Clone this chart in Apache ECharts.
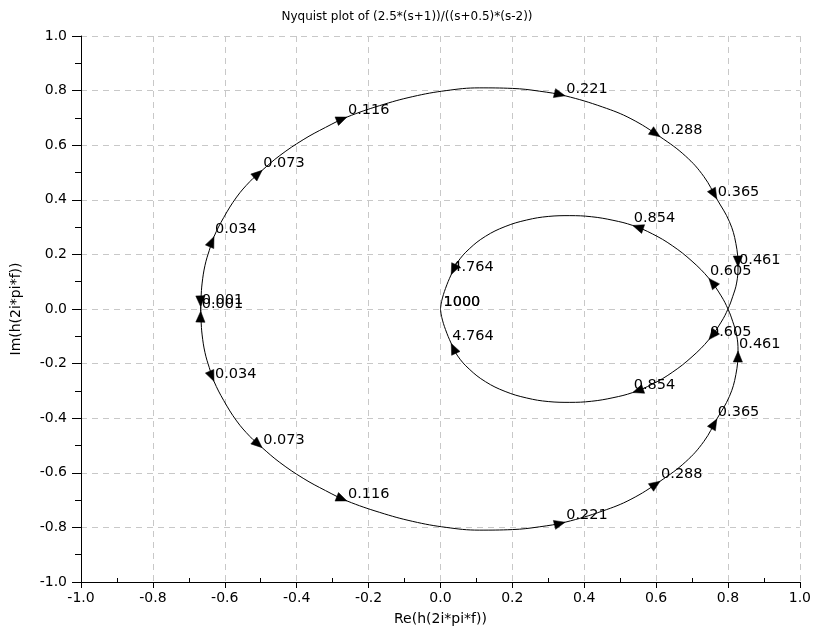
<!DOCTYPE html>
<html><head><meta charset="utf-8">
<script src="https://cdn.jsdelivr.net/npm/echarts@6/dist/echarts.min.js"></script>
<style>html,body{margin:0;padding:0;background:#fff}#c{width:814px;height:640px}</style>
</head><body><div id="c"></div>
<script>
// Branch for positive frequencies (upper outer arc, then lower inner loop)
const reA = [-0.667, -0.666, -0.663, -0.655, -0.643, -0.630, -0.603, -0.567, -0.530, -0.496, -0.447, -0.382, -0.320, -0.260, -0.169, -0.077, 0.016, 0.108, 0.200, 0.275, 0.347, 0.451, 0.530, 0.611, 0.682, 0.733, 0.769, 0.804, 0.822, 0.828, 0.824, 0.813, 0.800, 0.781, 0.747, 0.700, 0.645, 0.590, 0.535, 0.480, 0.420, 0.360, 0.300, 0.240, 0.180, 0.125, 0.080, 0.048, 0.030, 0.014, 0.004, 0.000];
const imA = [-0.008, 0.040, 0.095, 0.160, 0.215, 0.265, 0.335, 0.410, 0.467, 0.508, 0.562, 0.620, 0.665, 0.703, 0.745, 0.778, 0.800, 0.810, 0.808, 0.798, 0.781, 0.740, 0.697, 0.631, 0.560, 0.485, 0.403, 0.320, 0.240, 0.154, 0.095, 0.045, 0.000, -0.048, -0.112, -0.175, -0.232, -0.275, -0.306, -0.325, -0.338, -0.342, -0.339, -0.326, -0.302, -0.266, -0.220, -0.172, -0.126, -0.075, -0.032, 0.000];
// Branch for negative frequencies (lower outer arc, then upper inner loop)
const reB = [-0.667, -0.666, -0.663, -0.655, -0.643, -0.630, -0.603, -0.567, -0.530, -0.496, -0.447, -0.382, -0.320, -0.260, -0.169, -0.077, 0.016, 0.108, 0.200, 0.275, 0.347, 0.451, 0.530, 0.611, 0.682, 0.733, 0.769, 0.804, 0.822, 0.828, 0.824, 0.813, 0.800, 0.781, 0.747, 0.700, 0.645, 0.590, 0.535, 0.480, 0.420, 0.360, 0.300, 0.240, 0.180, 0.125, 0.080, 0.048, 0.030, 0.014, 0.004, 0.000];
const imB = [0.008, -0.040, -0.095, -0.160, -0.215, -0.265, -0.335, -0.410, -0.467, -0.508, -0.562, -0.620, -0.665, -0.703, -0.745, -0.778, -0.800, -0.810, -0.808, -0.798, -0.781, -0.740, -0.697, -0.631, -0.560, -0.485, -0.403, -0.320, -0.240, -0.154, -0.095, -0.045, 0.000, 0.048, 0.112, 0.175, 0.232, 0.275, 0.306, 0.325, 0.338, 0.342, 0.339, 0.326, 0.302, 0.266, 0.220, 0.172, 0.126, 0.075, 0.032, 0.000];

// Labelled frequency marks (arrow tips on each branch)
const markFreq = ['0.001', '0.034', '0.073', '0.116', '0.221', '0.288', '0.365', '0.461', '0.605', '0.854', '4.764', '1000'];
const markArrow = [1, 1, 1, 1, 1, 1, 1, 1, 1, 1, 1, 0];
const markReA = [-0.667, -0.630, -0.496, -0.260, 0.347, 0.611, 0.769, 0.828, 0.747, 0.535, 0.030, 0.000];
const markImA = [-0.008, 0.265, 0.508, 0.703, 0.781, 0.631, 0.403, 0.154, -0.112, -0.306, -0.126, 0.000];
const markReB = [-0.667, -0.630, -0.496, -0.260, 0.347, 0.611, 0.769, 0.828, 0.747, 0.535, 0.030, 0.000];
const markImB = [0.008, -0.265, -0.508, -0.703, -0.781, -0.631, -0.403, -0.154, 0.112, 0.306, 0.126, 0.000];

const FONT = "'DejaVu Sans', sans-serif";

function pairs(re, im) { return re.map((r, i) => [r, im[i]]); }

function markData(mRe, mIm, cRe, cIm) {
  return mRe.map((r, k) => {
    let best = 0, bd = Infinity;
    for (let i = 0; i < cRe.length; i++) {
      const d = (cRe[i] - r) ** 2 + (cIm[i] - mIm[k]) ** 2;
      if (d < bd) { bd = d; best = i; }
    }
    const pi = Math.max(0, best - 1), ni = Math.min(cRe.length - 1, best + 1);
    return [r, mIm[k], cRe[pi], cIm[pi], cRe[ni], cIm[ni]];
  });
}

function renderMark(params, api) {
  const k = params.dataIndex;
  const c = api.coord([api.value(0), api.value(1)]);
  const p = api.coord([api.value(2), api.value(3)]);
  const n = api.coord([api.value(4), api.value(5)]);
  const children = [];
  if (markArrow[k]) {
    let ux = n[0] - p[0], uy = n[1] - p[1];
    const len = Math.hypot(ux, uy) || 1;
    ux /= len; uy /= len;
    const L = 11, W = 4.6;
    const tip = [c[0], c[1]];
    const bc = [tip[0] - ux * L, tip[1] - uy * L];
    const b1 = [bc[0] - uy * W, bc[1] + ux * W];
    const b2 = [bc[0] + uy * W, bc[1] - ux * W];
    children.push({ type: 'polygon', z2: 2, shape: { points: [tip, b1, b2] }, style: { fill: '#000', stroke: '#000', lineWidth: 0.5 } });
  }
  const dx = markArrow[k] ? 1 : 3;
  children.push({ type: 'text', z2: 1, x: c[0] + dx, y: c[1] + 0.5, style: { text: markFreq[k], fill: '#000', font: "14.5px " + FONT, align: 'left', verticalAlign: 'bottom' } });
  return { type: 'group', children };
}

const axisCommon = {
  type: 'value', min: -1, max: 1, interval: 0.2,
  axisLine: { show: true, onZero: false, lineStyle: { color: '#000', width: 1 } },
  axisLabel: { color: '#000', fontFamily: FONT, fontSize: 14, formatter: v => v.toFixed(1) },
  splitLine: { show: true, lineStyle: { color: '#c8c8c8', type: [6, 5], width: 1 } }
};

const chart = echarts.init(document.getElementById('c'), null, { renderer: 'canvas' });
chart.setOption({
  animation: false,
  backgroundColor: '#fff',
  title: {
    text: 'Nyquist plot of (2.5*(s+1))/((s+0.5)*(s-2))', left: 'center', top: 6,
    textStyle: { color: '#000', fontFamily: FONT, fontSize: 12, fontWeight: 'normal' }
  },
  grid: { left: 81, right: 13, top: 36, bottom: 58 },
  xAxis: [
    Object.assign({}, axisCommon, {
      position: 'bottom',
      name: 'Re(h(2i*pi*f))', nameLocation: 'middle', nameGap: 30,
      nameTextStyle: { color: '#000', fontFamily: FONT, fontSize: 14 },
      axisTick: { show: true, length: 6, lineStyle: { color: '#000' } },
      axisLabel: Object.assign({}, axisCommon.axisLabel, { margin: 9 })
    }),
    Object.assign({}, axisCommon, {
      position: 'bottom',
      axisLine: { show: false, onZero: false },
      axisLabel: { show: false },
      splitLine: { show: false },
      axisTick: { show: false, inside: true },
      minorTick: { show: true, splitNumber: 2, length: 4, lineStyle: { color: '#000' } }
    })
  ],
  yAxis: Object.assign({}, axisCommon, {
    name: 'Im(h(2i*pi*f))', nameLocation: 'middle', nameGap: 58,
    nameTextStyle: { color: '#000', fontFamily: FONT, fontSize: 14 },
    axisTick: { show: true, length: 9, lineStyle: { color: '#000' } },
    minorTick: { show: true, splitNumber: 2, length: 6, lineStyle: { color: '#000' } },
    axisLabel: Object.assign({}, axisCommon.axisLabel, { margin: 14 })
  }),
  series: [
    { type: 'line', xAxisIndex: 0, data: pairs(reA, imA), showSymbol: false, smooth: 0.4, lineStyle: { color: '#000', width: 1 }, silent: true },
    { type: 'line', xAxisIndex: 0, data: pairs(reB, imB), showSymbol: false, smooth: 0.4, lineStyle: { color: '#000', width: 1 }, silent: true },
    { type: 'custom', xAxisIndex: 0, data: markData(markReA, markImA, reA, imA), renderItem: renderMark, silent: true, z: 3 },
    { type: 'custom', xAxisIndex: 0, data: markData(markReB, markImB, reB, imB), renderItem: renderMark, silent: true, z: 3 }
  ]
});
</script>
</body></html>
